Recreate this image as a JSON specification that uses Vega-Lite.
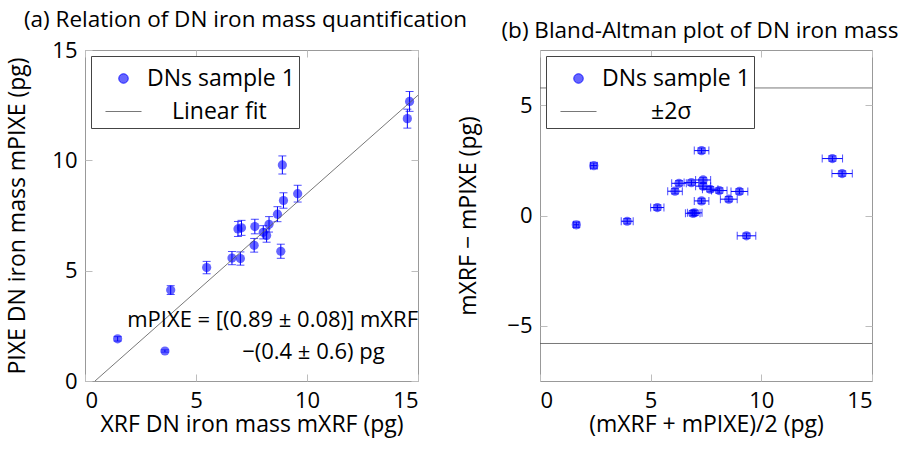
{
  "$schema": "https://vega.github.io/schema/vega-lite/v6.json",
  "background": "white",
  "padding": {"left": 6, "top": 8, "right": 5, "bottom": 5},
  "config": {
    "font": "Open Sans",
    "view": {"stroke": "#999999", "strokeWidth": 1},
    "axis": {
      "labelFontSize": 22, "titleFontSize": 23, "titleFontWeight": "normal",
      "labelColor": "black", "titleColor": "black", "domain": false, "ticks": false,
      "grid": true, "gridColor": "#bdbdbd", "gridWidth": 1, "gridOpacity": 1, "zindex": 1,
      "labelPadding": 9, "titlePadding": 2
    },
    "axisY": {"titlePadding": 22, "labelPadding": 8},
    "legend": {
      "orient": "top-left", "offset": 6, "padding": 4, "strokeColor": "#444444", "fillColor": "white",
      "labelFontSize": 23, "labelColor": "black", "symbolSize": 900, "rowPadding": 2,
      "labelOffset": 5, "symbolOffset": 10, "labelLimit": 400, "zindex": 2
    },
    "title": {"fontSize": 22.5, "fontWeight": "normal", "color": "black", "offset": 8, "frame": "group", "dx": -6}
  },
  "datasets": {
    "left": [
      {"x": 1.47, "y": 1.91, "yerr": 0.1},
      {"x": 3.6, "y": 1.36, "yerr": 0.05},
      {"x": 3.86, "y": 4.12, "yerr": 0.2},
      {"x": 5.48, "y": 5.14, "yerr": 0.28},
      {"x": 6.62, "y": 5.57, "yerr": 0.3},
      {"x": 7.0, "y": 5.55, "yerr": 0.3},
      {"x": 6.89, "y": 6.89, "yerr": 0.34},
      {"x": 7.05, "y": 6.94, "yerr": 0.34},
      {"x": 7.62, "y": 6.15, "yerr": 0.31},
      {"x": 7.65, "y": 7.0, "yerr": 0.33},
      {"x": 8.03, "y": 6.74, "yerr": 0.3},
      {"x": 8.18, "y": 6.59, "yerr": 0.3},
      {"x": 8.29, "y": 7.1, "yerr": 0.35},
      {"x": 8.67, "y": 7.56, "yerr": 0.34},
      {"x": 8.82, "y": 5.88, "yerr": 0.32},
      {"x": 8.94, "y": 8.18, "yerr": 0.35},
      {"x": 8.89, "y": 9.79, "yerr": 0.41},
      {"x": 9.58, "y": 8.49, "yerr": 0.38},
      {"x": 14.52, "y": 11.89, "yerr": 0.43},
      {"x": 14.62, "y": 12.67, "yerr": 0.45}
    ],
    "fit": [
      {"x": 0.45, "y": 0},
      {"x": 15, "y": 12.95}
    ],
    "right": [
      {"mean": 1.64, "diff": -0.42, "merr": 0.12, "derr": 0.12},
      {"mean": 2.43, "diff": 2.26, "merr": 0.15, "derr": 0.12},
      {"mean": 3.94, "diff": -0.26, "merr": 0.27, "derr": 0.12},
      {"mean": 5.3, "diff": 0.36, "merr": 0.3, "derr": 0.12},
      {"mean": 6.1, "diff": 1.1, "merr": 0.33, "derr": 0.12},
      {"mean": 6.28, "diff": 1.46, "merr": 0.33, "derr": 0.12},
      {"mean": 6.84, "diff": 1.49, "merr": 0.33, "derr": 0.12},
      {"mean": 6.9, "diff": 0.1, "merr": 0.33, "derr": 0.12},
      {"mean": 6.99, "diff": 0.12, "merr": 0.33, "derr": 0.12},
      {"mean": 7.3, "diff": 2.94, "merr": 0.33, "derr": 0.12},
      {"mean": 7.3, "diff": 0.66, "merr": 0.33, "derr": 0.12},
      {"mean": 7.37, "diff": 1.61, "merr": 0.34, "derr": 0.12},
      {"mean": 7.37, "diff": 1.33, "merr": 0.34, "derr": 0.12},
      {"mean": 7.69, "diff": 1.19, "merr": 0.35, "derr": 0.12},
      {"mean": 8.1, "diff": 1.13, "merr": 0.35, "derr": 0.12},
      {"mean": 8.53, "diff": 0.74, "merr": 0.38, "derr": 0.12},
      {"mean": 9.01, "diff": 1.09, "merr": 0.38, "derr": 0.12},
      {"mean": 9.33, "diff": -0.92, "merr": 0.42, "derr": 0.12},
      {"mean": 13.21, "diff": 2.58, "merr": 0.46, "derr": 0.12},
      {"mean": 13.65, "diff": 1.9, "merr": 0.46, "derr": 0.12}
    ],
    "sigma": [
      {"y": 5.78},
      {"y": -5.8}
    ]
  },
  "bounds": "flush",
  "spacing": 122,
  "resolve": {"scale": {"color": "independent"}, "legend": {"color": "independent"}},
  "hconcat": [
    {
      "width": 333,
      "height": 331,
      "title": "(a) Relation of DN iron mass quantification",
      "layer": [
        {
          "data": {"name": "left"},
          "mark": {"type": "errorbar", "color": "#0000ff", "thickness": 1, "ticks": {"size": 8, "thickness": 1}},
          "encoding": {
            "x": {"field": "x", "type": "quantitative", "scale": {"domain": [0, 15], "nice": false},
                  "axis": {"values": [0, 5, 10, 15], "gridDash": [7, 317, 7], "title": "XRF DN iron mass mXRF (pg)"}},
            "y": {"field": "y", "type": "quantitative", "scale": {"domain": [0, 15], "nice": false},
                  "axis": {"values": [0, 5, 10, 15], "gridDash": [7, 319, 7], "title": "PIXE DN iron mass mPIXE (pg)"}},
            "yError": {"field": "yerr"}
          }
        },
        {
          "data": {"name": "left"},
          "mark": {"type": "point", "filled": true, "size": 85, "opacity": 0.6, "strokeWidth": 0},
          "encoding": {
            "x": {"field": "x", "type": "quantitative", "title": "XRF DN iron mass mXRF (pg)"},
            "y": {"field": "y", "type": "quantitative", "title": "PIXE DN iron mass mPIXE (pg)"},
            "color": {
              "datum": "DNs sample 1", "type": "nominal",
              "scale": {"domain": ["DNs sample 1", "Linear fit"], "range": ["#0000ff", "#555555"]},
              "legend": {
                "title": null,
                "encode": {
                  "labels": {"update": {"dx": {"signal": "datum.value === 'Linear fit' ? 25 : 0"}}},
                  "symbols": {"update": {
                    "shape": {"signal": "datum.value === 'DNs sample 1' ? 'circle' : 'stroke'"},
                    "size": {"signal": "datum.value === 'DNs sample 1' ? 90 : 1300"},
                    "fill": {"signal": "datum.value === 'DNs sample 1' ? '#0000ff' : 'transparent'"},
                    "fillOpacity": {"value": 0.6},
                    "stroke": {"signal": "datum.value === 'DNs sample 1' ? 'transparent' : '#555555'"},
                    "strokeWidth": {"value": 0.8},
                    "opacity": {"value": 1}
                  }}
                }
              }
            }
          }
        },
        {
          "data": {"name": "fit"},
          "mark": {"type": "line", "strokeWidth": 0.8},
          "encoding": {
            "x": {"field": "x", "type": "quantitative", "title": "XRF DN iron mass mXRF (pg)"},
            "y": {"field": "y", "type": "quantitative", "title": "PIXE DN iron mass mPIXE (pg)"},
            "color": {
              "datum": "Linear fit", "type": "nominal",
              "legend": {
                "title": null,
                "encode": {
                  "labels": {"update": {"dx": {"signal": "datum.value === 'Linear fit' ? 25 : 0"}}},
                  "symbols": {"update": {
                    "shape": {"signal": "datum.value === 'DNs sample 1' ? 'circle' : 'stroke'"},
                    "size": {"signal": "datum.value === 'DNs sample 1' ? 90 : 1300"},
                    "fill": {"signal": "datum.value === 'DNs sample 1' ? '#0000ff' : 'transparent'"},
                    "fillOpacity": {"value": 0.6},
                    "stroke": {"signal": "datum.value === 'DNs sample 1' ? 'transparent' : '#555555'"},
                    "strokeWidth": {"value": 0.8},
                    "opacity": {"value": 1}
                  }}
                }
              }
            }
          }
        },
        {
          "data": {"values": [{"eq": "mPIXE = [(0.89 ± 0.08)] mXRF"}]},
          "mark": {"type": "text", "align": "right", "baseline": "middle", "fontSize": 22},
          "encoding": {
            "x": {"datum": 15.0, "type": "quantitative", "title": "XRF DN iron mass mXRF (pg)"},
            "y": {"datum": 2.75, "type": "quantitative", "title": "PIXE DN iron mass mPIXE (pg)"},
            "text": {"field": "eq"}
          }
        },
        {
          "data": {"values": [{"eq": "−(0.4 ± 0.6) pg"}]},
          "mark": {"type": "text", "align": "right", "baseline": "middle", "fontSize": 22},
          "encoding": {
            "x": {"datum": 13.5, "type": "quantitative", "title": "XRF DN iron mass mXRF (pg)"},
            "y": {"datum": 1.3, "type": "quantitative", "title": "PIXE DN iron mass mPIXE (pg)"},
            "text": {"field": "eq"}
          }
        }
      ]
    },
    {
      "width": 332,
      "height": 331,
      "title": "(b) Bland-Altman plot of DN iron mass",
      "layer": [
        {
          "data": {"name": "right"},
          "mark": {"type": "errorbar", "color": "#0000ff", "thickness": 1, "ticks": {"size": 8, "thickness": 1}},
          "encoding": {
            "x": {"field": "mean", "type": "quantitative", "scale": {"domain": [0, 15], "nice": false},
                  "axis": {"values": [0, 5, 10, 15], "gridDash": [7, 317, 7], "title": "(mXRF + mPIXE)/2 (pg)"}},
            "y": {"field": "diff", "type": "quantitative", "scale": {"domain": [-7.5, 7.5], "nice": false},
                  "axis": {"values": [-5, 0, 5], "gridDash": [7, 318, 7], "title": "mXRF − mPIXE (pg)", "titlePadding": 26}},
            "xError": {"field": "merr"}
          }
        },
        {
          "data": {"name": "right"},
          "mark": {"type": "errorbar", "color": "#0000ff", "thickness": 1, "ticks": {"size": 8, "thickness": 1}},
          "encoding": {
            "x": {"field": "mean", "type": "quantitative", "title": "(mXRF + mPIXE)/2 (pg)"},
            "y": {"field": "diff", "type": "quantitative", "title": "mXRF − mPIXE (pg)"},
            "yError": {"field": "derr"}
          }
        },
        {
          "data": {"name": "right"},
          "mark": {"type": "point", "filled": true, "size": 85, "opacity": 0.6, "strokeWidth": 0},
          "encoding": {
            "x": {"field": "mean", "type": "quantitative", "title": "(mXRF + mPIXE)/2 (pg)"},
            "y": {"field": "diff", "type": "quantitative", "title": "mXRF − mPIXE (pg)"},
            "color": {
              "datum": "DNs sample 1", "type": "nominal",
              "scale": {"domain": ["DNs sample 1", "±2σ"], "range": ["#0000ff", "#555555"]},
              "legend": {
                "title": null,
                "encode": {
                  "labels": {"update": {"dx": {"signal": "datum.value === '±2σ' ? 49 : 0"}}},
                  "symbols": {"update": {
                    "shape": {"signal": "datum.value === 'DNs sample 1' ? 'circle' : 'stroke'"},
                    "size": {"signal": "datum.value === 'DNs sample 1' ? 90 : 1300"},
                    "fill": {"signal": "datum.value === 'DNs sample 1' ? '#0000ff' : 'transparent'"},
                    "fillOpacity": {"value": 0.6},
                    "stroke": {"signal": "datum.value === 'DNs sample 1' ? 'transparent' : '#555555'"},
                    "strokeWidth": {"value": 0.8},
                    "opacity": {"value": 1}
                  }}
                }
              }
            }
          }
        },
        {
          "data": {"name": "sigma"},
          "mark": {"type": "rule", "strokeWidth": 0.8},
          "encoding": {
            "y": {"field": "y", "type": "quantitative", "title": "mXRF − mPIXE (pg)"},
            "color": {
              "datum": "±2σ", "type": "nominal",
              "legend": {
                "title": null,
                "encode": {
                  "labels": {"update": {"dx": {"signal": "datum.value === '±2σ' ? 49 : 0"}}},
                  "symbols": {"update": {
                    "shape": {"signal": "datum.value === 'DNs sample 1' ? 'circle' : 'stroke'"},
                    "size": {"signal": "datum.value === 'DNs sample 1' ? 90 : 1300"},
                    "fill": {"signal": "datum.value === 'DNs sample 1' ? '#0000ff' : 'transparent'"},
                    "fillOpacity": {"value": 0.6},
                    "stroke": {"signal": "datum.value === 'DNs sample 1' ? 'transparent' : '#555555'"},
                    "strokeWidth": {"value": 0.8},
                    "opacity": {"value": 1}
                  }}
                }
              }
            }
          }
        }
      ]
    }
  ]
}
